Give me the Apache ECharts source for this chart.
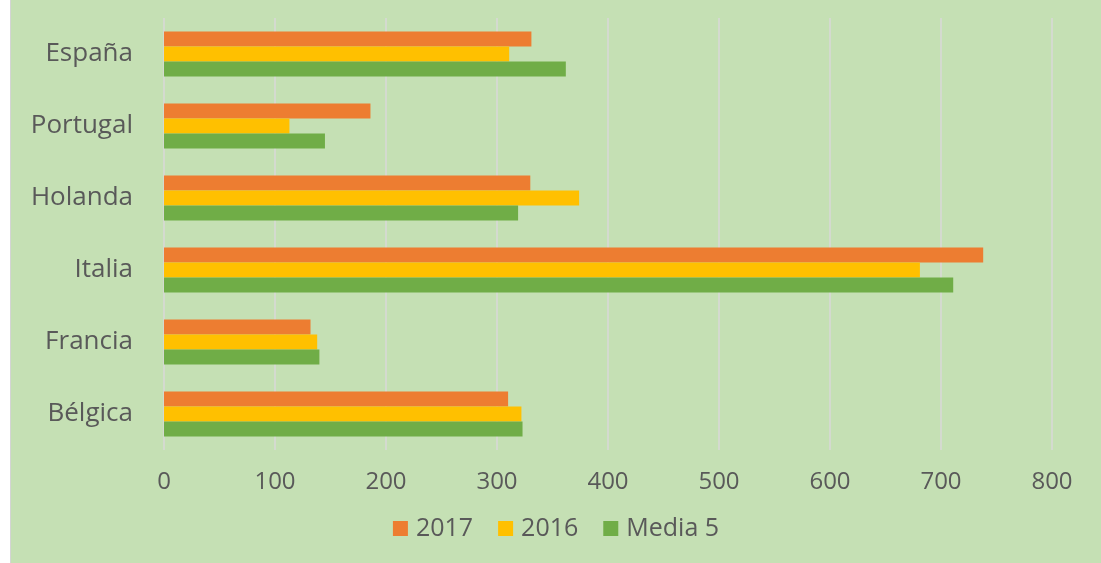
<!DOCTYPE html>
<html>
<head>
<meta charset="utf-8">
<script src="https://cdn.jsdelivr.net/npm/echarts@6/dist/echarts.min.js"></script>
<style>
  html, body { margin: 0; padding: 0; background: #ffffff; }
  #chart {
    position: absolute;
    left: 10px;
    top: 0;
    width: 1090px;
    height: 563px;
    border-left: 1px solid #d4d4d4;
    background: #c5e0b4;
  }
</style>
</head>
<body>
<div id="chart"></div>
<script>
// categorías de abajo hacia arriba
const countries = ['Bélgica', 'Francia', 'Italia', 'Holanda', 'Portugal', 'España']
const values2017 = [310, 132, 738, 330, 186, 331]
const values2016 = [322, 138, 681, 374, 113, 311]
const valuesMedia5 = [323, 140, 711, 319, 145, 362]
const xTicks = [0, 100, 200, 300, 400, 500, 600, 700, 800]

const chart = echarts.init(document.getElementById('chart'), null, { renderer: 'canvas' })

const font = '"Open Sans", "DejaVu Sans", sans-serif'

const option = {
  backgroundColor: 'transparent',
  animation: false,
  grid: {
    left: 153,
    right: 49,
    top: 18,
    height: 432
  },
  legend: {
    data: ['2017', '2016', 'Media 5'],
    bottom: 17,
    left: 'center',
    itemWidth: 15,
    itemHeight: 15,
    itemGap: 25,
    icon: 'rect',
    textStyle: {
      color: '#595959',
      fontSize: 25,
      fontFamily: font,
      padding: [0, 0, 0, 3]
    }
  },
  xAxis: {
    type: 'value',
    min: xTicks[0],
    max: xTicks[xTicks.length - 1],
    interval: 100,
    axisLine: { show: false },
    axisTick: { show: false },
    axisLabel: {
      color: '#595959',
      fontSize: 24,
      fontFamily: font,
      margin: 20
    },
    splitLine: {
      lineStyle: { color: '#d9d9d9', width: 1.5 }
    }
  },
  yAxis: {
    type: 'category',
    data: countries,
    axisLine: { show: false },
    axisTick: { show: false },
    axisLabel: {
      color: '#595959',
      fontSize: 26,
      fontFamily: font,
      margin: 31
    }
  },
  series: [
    {
      name: '2017',
      type: 'bar',
      data: values2017,
      itemStyle: { color: '#ed7d31' },
      barWidth: 15,
      barGap: '0%'
    },
    {
      name: '2016',
      type: 'bar',
      data: values2016,
      itemStyle: { color: '#ffc000' },
      barWidth: 15,
      barGap: '0%'
    },
    {
      name: 'Media 5',
      type: 'bar',
      data: valuesMedia5,
      itemStyle: { color: '#70ad47' },
      barWidth: 15,
      barGap: '0%'
    }
  ]
}

chart.setOption(option)

window.addEventListener('resize', () => {
  chart.resize()
})
</script>
</body>
</html>
